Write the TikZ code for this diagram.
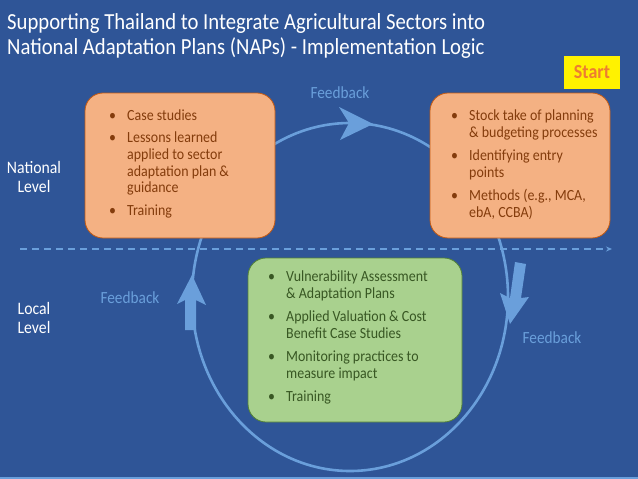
\documentclass[tikz,border=0pt]{standalone}
\usepackage{fontspec}
\setmainfont[FakeStretch=0.9]{Carlito}
\usetikzlibrary{calc,arrows.meta}
\definecolor{bg}{HTML}{2F5597}
\definecolor{lb}{HTML}{6A9FDB}
\definecolor{orf}{HTML}{F4B183}
\definecolor{ord}{HTML}{C55A11}
\definecolor{ort}{HTML}{843C0C}
\definecolor{grf}{HTML}{A9D18E}
\definecolor{grd}{HTML}{548235}
\definecolor{grt}{HTML}{385723}
\definecolor{stt}{HTML}{ED7D31}
\tikzset{
  obox/.style={draw=ord, line width=0.8pt, fill=orf, rounded corners=18pt, inner sep=0pt},
  gbox/.style={draw=grd, line width=0.8pt, fill=grf, rounded corners=18pt, inner sep=0pt},
  btext/.style={anchor=base west, inner sep=0pt, font=\fontsize{15.5}{17}\selectfont, align=left},
  fb/.style={text=lb, font=\fontsize{17}{19}\selectfont, inner sep=0pt},
  lvl/.style={text=white, font=\fontsize{17.5}{19}\selectfont, align=center, inner sep=0pt},
  ttl/.style={anchor=base west, inner sep=0pt, text=white, font=\fontsize{23}{25}\selectfont},
  cyc/.style={draw=lb, line width=2.6pt},
  blk/.style={fill=lb, draw=none},
}
\newcommand\bl[2]{\begin{tabular}[t]{@{}p{18pt}@{}l@{}}#2\end{tabular}}
\begin{document}
\begin{tikzpicture}[x=1pt,y=-1pt]
\fill[bg] (0,0) rectangle (638,479);
\useasboundingbox (0,0) rectangle (638,479);
% bottom line
\coordinate (bl1) at (0,477.5);
\coordinate (bl2) at (638,477.5);
\draw[lb, line width=2pt] (bl1) -- (bl2);
% title
\node[ttl] (t1) at (7,29) {Supporting Thailand to Integrate Agricultural Sectors into};
\node[ttl] (t2) at (7,54) {National Adaptation Plans (NAPs) - Implementation Logic};
% cycle
\draw[cyc] (350,297) ellipse [x radius=158, y radius=174];
% top arrow head
\fill[blk] (373,124) -- (339,107) -- (349,123) -- (340,140) -- cycle;
% left block arrow
\fill[blk] (185,330) -- (185,300) -- (177,304) -- (192,275) -- (206,305) -- (196,300) -- (196,330) -- cycle;
% right block arrow
\fill[blk] (515,262) -- (526,264) -- (521,298) -- (529,297) -- (510,324) -- (500,293) -- (510,298) -- cycle;
% dashed separator
\coordinate (d1) at (20,249);
\coordinate (d2) at (612,249);
\draw[lb, line width=1.3pt, dash pattern=on 7pt off 5pt, -{Stealth[length=6pt,width=5pt]}] (d1) -- (d2);
% boxes
\node[obox, minimum width=190pt, minimum height=145pt] (nat1) at (180,165.5) {};
\node[obox, minimum width=180pt, minimum height=145pt] (nat2) at (520,165.5) {};
\node[gbox, minimum width=214pt, minimum height=164pt] (loc) at (355,340) {};
\node[btext, text=ort] (nat1t) at (109,120) {\bl{}{\textbullet & Case studies\\[5pt]
\textbullet & Lessons learned\\ & applied to sector\\ & adaptation plan \&\\ & guidance\\[5pt]
\textbullet & Training}};
\node[btext, text=ort] (nat2t) at (451,120) {\bl{}{\textbullet & Stock take of planning\\ & \& budgeting processes\\[6pt]
\textbullet & Identifying entry\\ & points\\[6pt]
\textbullet & Methods (e.g., MCA,\\ & ebA, CCBA)}};
\node[btext, text=grt] (loct) at (268,281.5) {\bl{}{\textbullet & Vulnerability Assessment\\ & \& Adaptation Plans\\[6pt]
\textbullet & Applied Valuation \& Cost\\ & Benefit Case Studies\\[6pt]
\textbullet & Monitoring practices to\\ & measure impact\\[6pt]
\textbullet & Training}};
% start
\node[fill=yellow, minimum width=56pt, minimum height=33pt, inner sep=0pt, text=stt, font=\fontsize{20}{22}\selectfont\bfseries] (start) at (592,72.5) {Start};
% labels
\node[fb] (fbtop) at (340,93) {Feedback};
\node[fb] (fbleft) at (130,298) {Feedback};
\node[fb] (fbright) at (552,338) {Feedback};
\node[lvl] (natl) at (34,177) {National\\Level};
\node[lvl] (locl) at (34,318) {Local\\Level};
\end{tikzpicture}
\end{document}
